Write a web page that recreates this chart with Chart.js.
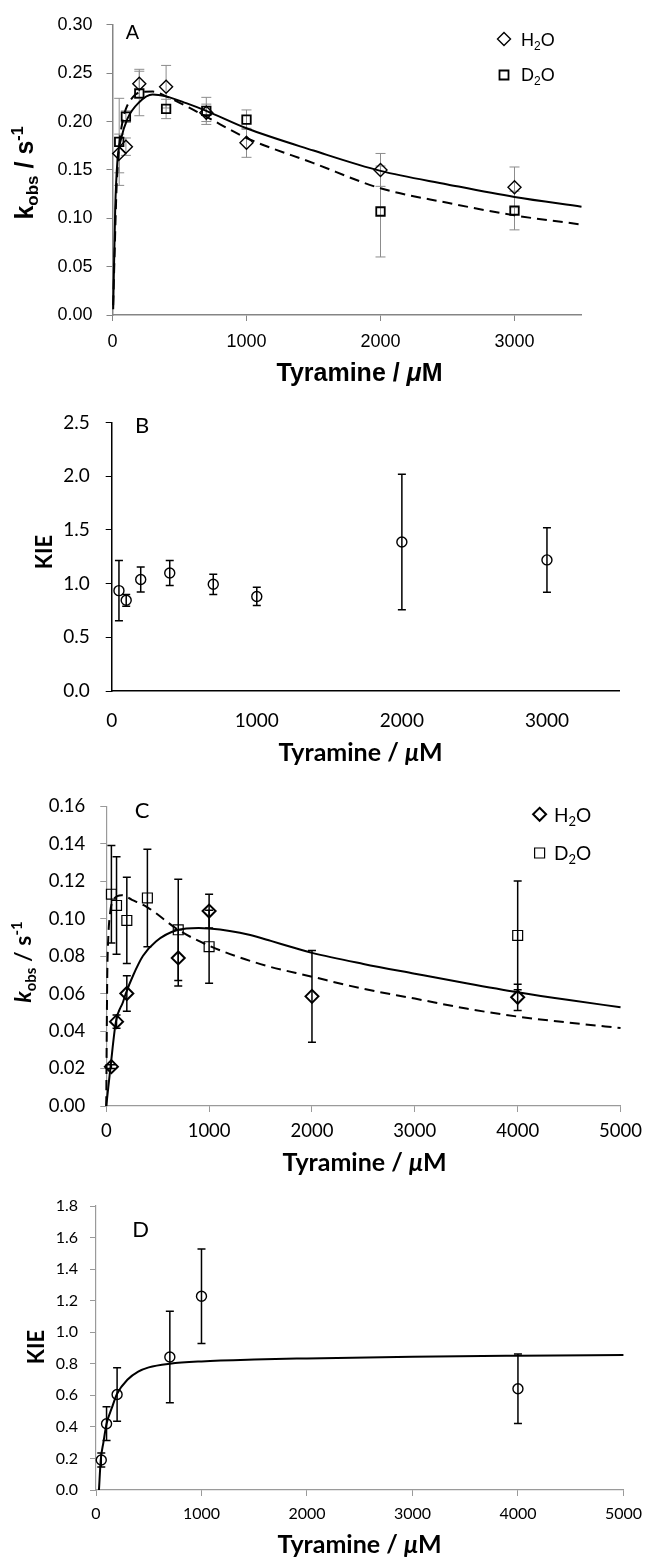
<!DOCTYPE html>
<html><head><meta charset="utf-8">
<script src="https://cdn.jsdelivr.net/npm/chart.js@4.4.1/dist/chart.umd.min.js"></script>
<style>
html,body{margin:0;padding:0;background:#fff;}
body{width:650px;height:1558px;position:relative;overflow:hidden;}
canvas{position:absolute;left:0;}
</style></head><body>
<canvas id="cA" width="650" height="395" style="top:0px;width:650px;height:395px"></canvas>
<canvas id="cB" width="650" height="385" style="top:395px;width:650px;height:385px"></canvas>
<canvas id="cC" width="650" height="400" style="top:780px;width:650px;height:400px"></canvas>
<canvas id="cD" width="650" height="378" style="top:1180px;width:650px;height:378px"></canvas>
<script>
// ---------------- DATA ----------------
// Panel A: kobs vs tyramine
const xA = [50, 100, 200, 400, 700, 1000, 2000, 3000];
const kA_H2O = [0.167, 0.174, 0.239, 0.236, 0.209, 0.178, 0.150, 0.132];
const errA_H2O = [0.020, 0.009, 0.015, 0.022, 0.009, 0.015, 0.017, 0.021];
const kA_D2O = [0.179, 0.205, 0.229, 0.213, 0.211, 0.202, 0.107, 0.108];
const errA_D2O = [0.045, 0.006, 0.023, 0.010, 0.014, 0.010, 0.047, 0.020];
const fitA_H2O_x = [5, 20, 37, 62, 112, 199, 299, 398, 550, 700, 1000, 1500, 2000, 2500, 3000, 3500];
const fitA_H2O_y = [0.006, 0.109, 0.160, 0.181, 0.203, 0.220, 0.228, 0.226, 0.219, 0.211, 0.193, 0.170, 0.149, 0.135, 0.122, 0.112];
const fitA_D2O_x = [5, 15, 30, 50, 75, 100, 150, 200, 300, 400, 550, 700, 1000, 1500, 2000, 2500, 3000, 3500];
const fitA_D2O_y = [0.010, 0.060, 0.130, 0.175, 0.200, 0.213, 0.225, 0.230, 0.231, 0.226, 0.216, 0.205, 0.183, 0.157, 0.131, 0.116, 0.103, 0.0935];

// Panel B: KIE
const xB = [50, 100, 200, 400, 700, 1000, 2000, 3000];
const kieB = [0.934, 0.844, 1.038, 1.098, 0.993, 0.880, 1.387, 1.220];
const errB = [0.280, 0.055, 0.117, 0.117, 0.094, 0.085, 0.630, 0.300];

// Panel C: kobs vs tyramine
const xC_H2O = [50, 100, 200, 700, 1000, 2000, 4000];
const kC_H2O = [0.021, 0.045, 0.060, 0.079, 0.104, 0.0585, 0.058];
const errC_H2O = [0.001, 0.0035, 0.0095, 0.015, 0.009, 0.0245, 0.007];
const xC_D2O = [50, 100, 200, 400, 700, 1000, 4000];
const kC_D2O = [0.113, 0.107, 0.099, 0.111, 0.094, 0.085, 0.091];
const errC_D2O = [0.026, 0.026, 0.023, 0.026, 0.027, 0.0195, 0.029];
const fitC_H2O_x = [0, 20, 42, 94, 163, 190, 260, 356, 483, 691, 899, 1000, 1200, 1400, 1600, 1800, 2000, 2500, 3000, 3500, 4000, 4500, 5000];
const fitC_H2O_y = [0, 0.010, 0.021, 0.045, 0.0555, 0.060, 0.0695, 0.080, 0.0878, 0.0939, 0.0950, 0.0947, 0.0934, 0.0912, 0.0881, 0.0848, 0.0817, 0.0758, 0.0706, 0.0655, 0.0607, 0.0565, 0.0527];
const fitC_D2O_x = [0, 5, 10, 20, 40, 70, 150, 250, 400, 700, 1000, 1500, 2000, 2500, 3000, 3500, 4000, 4500, 5000];
const fitC_D2O_y = [0, 0.040, 0.070, 0.090, 0.104, 0.110, 0.1125, 0.110, 0.106, 0.094, 0.0855, 0.0757, 0.069, 0.0625, 0.0573, 0.052, 0.0477, 0.0445, 0.0416];

// Panel D: KIE
const xD = [50, 100, 200, 700, 1000, 4000];
const kieD = [0.190, 0.420, 0.605, 0.843, 1.228, 0.642];
const errD = [0.045, 0.107, 0.170, 0.290, 0.300, 0.220];
const fitD_x = [28, 45, 70, 100, 150, 200, 300, 400, 500, 700, 1000, 1500, 2000, 3000, 4000, 5000];
const fitD_y = [0, 0.190, 0.300, 0.420, 0.520, 0.610, 0.700, 0.750, 0.777, 0.800, 0.815, 0.827, 0.834, 0.845, 0.851, 0.855];

// tick values
const tickA_x = [0, 1000, 2000, 3000];
const tickA_y = [0, 0.05, 0.10, 0.15, 0.20, 0.25, 0.30];
const tickB_x = [0, 1000, 2000, 3000];
const tickB_y = [0, 0.5, 1.0, 1.5, 2.0, 2.5];
const tickC_x = [0, 1000, 2000, 3000, 4000, 5000];
const tickC_y = [0, 0.02, 0.04, 0.06, 0.08, 0.10, 0.12, 0.14, 0.16];
const tickD_x = [0, 1000, 2000, 3000, 4000, 5000];
const tickD_y = [0, 0.2, 0.4, 0.6, 0.8, 1.0, 1.2, 1.4, 1.6, 1.8];

// axis ranges
const rangeA = {x: [0, 3500], y: [0, 0.30], dec: 2};
const rangeB = {x: [0, 3500], y: [0, 2.5], dec: 1};
const rangeC = {x: [0, 5000], y: [0, 0.16], dec: 2};
const rangeD = {x: [0, 5000], y: [0, 1.8], dec: 1};

// ---------------- HELPERS ----------------
const FA = "'Liberation Sans', Arial, Helvetica, sans-serif";
const FL = "Lato, 'Open Sans', sans-serif";

function pts(xs, ys) { return xs.map((x, i) => ({x: x, y: ys[i]})); }

function pointSet(label, xs, ys, errs, style, r, bw, errStyle) {
  return {label, data: pts(xs, ys), showLine: false, pointStyle: style,
    pointRadius: r, pointHoverRadius: r, pointBorderWidth: bw,
    pointBorderColor: '#000', pointBackgroundColor: 'rgba(0,0,0,0)',
    errors: errs, errStyle: errStyle, clip: false, order: 0};
}
function fitSet(label, xs, ys, dash, lw) {
  return {label, data: pts(xs, ys), showLine: true, pointRadius: 0, pointHoverRadius: 0,
    borderColor: '#000', borderWidth: lw, borderDash: dash,
    cubicInterpolationMode: 'monotone', fill: false, order: 1, clip: false};
}

const errorBarPlugin = {
  id: 'errorBars',
  beforeDatasetsDraw(chart) {
    const ctx = chart.ctx, xs = chart.scales.x, ys = chart.scales.y;
    chart.data.datasets.forEach(ds => {
      if (!ds.errors) return;
      const st = ds.errStyle;
      ctx.save();
      ctx.strokeStyle = st.color; ctx.lineWidth = st.width;
      ds.data.forEach((p, i) => {
        const e = ds.errors[i];
        if (!e) return;
        const px = xs.getPixelForValue(p.x);
        const y1 = ys.getPixelForValue(p.y + e), y2 = ys.getPixelForValue(p.y - e);
        ctx.beginPath();
        ctx.moveTo(px, y1); ctx.lineTo(px, y2);
        ctx.moveTo(px - st.cap, y1); ctx.lineTo(px + st.cap, y1);
        ctx.moveTo(px - st.cap, y2); ctx.lineTo(px + st.cap, y2);
        ctx.stroke();
      });
      ctx.restore();
    });
  }
};

function textPlugin(items) {
  return {
    id: 'richText',
    afterDraw(chart) {
      const ctx = chart.ctx;
      items.forEach(it => {
        ctx.save();
        if (it.marker) {
          ctx.strokeStyle = '#000'; ctx.lineWidth = it.lw;
          ctx.beginPath();
          if (it.marker === 'diamond') {
            ctx.moveTo(it.x, it.y - it.r); ctx.lineTo(it.x + it.r, it.y);
            ctx.lineTo(it.x, it.y + it.r); ctx.lineTo(it.x - it.r, it.y); ctx.closePath();
          } else {
            ctx.rect(it.x - it.r, it.y - it.r, 2 * it.r, 2 * it.r);
          }
          ctx.stroke();
          ctx.restore();
          return;
        }
        ctx.fillStyle = '#000';
        ctx.textBaseline = 'alphabetic';
        ctx.textAlign = 'left';
        const widths = it.parts.map(p => { ctx.font = p.font; return ctx.measureText(p.t).width; });
        const total = widths.reduce((a, b) => a + b, 0);
        ctx.translate(it.x, it.y);
        if (it.rotate) ctx.rotate(-Math.PI / 2);
        let x0 = it.align === 'left' ? 0 : -total / 2;
        it.parts.forEach((p, i) => { ctx.font = p.font; ctx.fillText(p.t, x0, p.dy || 0); x0 += widths[i]; });
        ctx.restore();
      });
    }
  };
}

function axisCfg(lim, vals, dec, opt, geomFit) {
  return {
    type: 'linear', min: lim[0], max: lim[1],
    afterBuildTicks: s => { s.ticks = vals.map(v => ({value: v})); },
    ticks: {color: '#000',
      font: {family: opt.family, size: opt.size}, padding: opt.pad,
      maxRotation: 0, minRotation: 0, autoSkip: false,
      callback: (v) => dec !== undefined ? Number(v).toFixed(dec) : String(v)},
    grid: {display: true, drawOnChartArea: false, drawTicks: opt.drawTicks !== false,
      tickLength: opt.tl, color: opt.color, lineWidth: 1},
    border: {display: true, color: opt.color, width: opt.bw},
    afterFit: geomFit
  };
}

function makeChart(id, g, datasets, range, xv, yv, xo, yo, items) {
  const ctx = document.getElementById(id);
  return new Chart(ctx, {
    type: 'scatter',
    data: {datasets},
    options: {
      responsive: false, maintainAspectRatio: false, animation: false, devicePixelRatio: 1,
      layout: {autoPadding: false, padding: {left: 0, top: g.top, right: g.W - g.right, bottom: 0}},
      plugins: {legend: {display: false}, tooltip: {enabled: false}, title: {display: false}},
      scales: {
        x: axisCfg(range.x, xv, undefined, xo, s => { s.height = g.H - g.bottom; }),
        y: axisCfg(range.y, yv, range.dec, yo, s => { s.width = g.left; })
      }
    },
    plugins: [errorBarPlugin, textPlugin(items)]
  });
}

function draw() {
  // ---------- Panel A ----------
  const gA = {W: 650, H: 395, left: 112.5, right: 581.5, top: 24, bottom: 315};
  const grayA = '#858585';
  const eA = {color: '#8c8c8c', width: 1, cap: 5};
  makeChart('cA', gA, [
    pointSet('H2O', xA, kA_H2O, errA_H2O, 'rectRot', 6.5, 1.4, eA),
    pointSet('D2O', xA, kA_D2O, errA_D2O, 'rect', 6, 1.8, eA),
    fitSet('H2O fit', fitA_H2O_x, fitA_H2O_y, [], 2),
    fitSet('D2O fit', fitA_D2O_x, fitA_D2O_y, [10, 6], 2)
  ], rangeA, tickA_x, tickA_y,
  {family: FA, size: 18, pad: 10.5, tl: 6, color: grayA, bw: 1.5},
  {family: FA, size: 18, pad: 14, tl: 6, color: grayA, bw: 1.5},
  [
    {x: 132.5, y: 38.5, parts: [{t: 'A', font: '20px ' + FA}]},
    {marker: 'diamond', x: 504, y: 39, r: 6.5, lw: 1.4},
    {x: 521, y: 45.5, align: 'left', parts: [{t: 'H', font: '18px ' + FA}, {t: '2', font: '12px ' + FA, dy: 4}, {t: 'O', font: '18px ' + FA}]},
    {marker: 'square', x: 504, y: 75, r: 4.5, lw: 1.8},
    {x: 521, y: 80.5, align: 'left', parts: [{t: 'D', font: '18px ' + FA}, {t: '2', font: '12px ' + FA, dy: 4}, {t: 'O', font: '18px ' + FA}]},
    {x: 33, y: 173, rotate: true, parts: [
      {t: 'k', font: 'bold 25px ' + FA}, {t: 'obs', font: 'bold 17px ' + FA, dy: 5},
      {t: ' / s', font: 'bold 25px ' + FA}, {t: '-1', font: 'bold 16px ' + FA, dy: -10}]},
    {x: 359.5, y: 381, parts: [{t: 'Tyramine / ', font: 'bold 25px ' + FA}, {t: 'μ', font: 'italic bold 25px ' + FA}, {t: 'M', font: 'bold 25px ' + FA}]}
  ]);

  // ---------- Panel B ----------
  const gB = {W: 650, H: 385, left: 111.7, right: 619.5, top: 16.7, bottom: 296};
  const eB = {color: '#000', width: 1.5, cap: 4};
  makeChart('cB', gB, [
    pointSet('KIE', xB, kieB, errB, 'circle', 5, 1.4, eB)
  ], rangeB, tickB_x, tickB_y,
  {family: FL, size: 19, pad: 18, tl: 0, drawTicks: false, color: '#000', bw: 1.5},
  {family: FL, size: 19, pad: 16, tl: 6, color: '#000', bw: 1.5},
  [
    {x: 142, y: 38, parts: [{t: 'B', font: '22px ' + FL}]},
    {x: 52, y: 157, rotate: true, parts: [{t: 'KIE', font: 'bold 22px ' + FL}]},
    {x: 360.5, y: 366, parts: [{t: 'Tyramine / ', font: 'bold 25px ' + FL}, {t: 'μ', font: 'italic bold 25px ' + FL}, {t: 'M', font: 'bold 25px ' + FL}]}
  ]);

  // ---------- Panel C ----------
  const gC = {W: 650, H: 400, left: 106.25, right: 628.3, top: 20.7, bottom: 326};
  const grayC = '#9a9a9a';
  const eC = {color: '#000', width: 1.5, cap: 4};
  makeChart('cC', gC, [
    pointSet('H2O', xC_H2O, kC_H2O, errC_H2O, 'rectRot', 6.5, 2, eC),
    pointSet('D2O', xC_D2O, kC_D2O, errC_D2O, 'rect', 7, 1.2, eC),
    fitSet('H2O fit', fitC_H2O_x, fitC_H2O_y, [], 2),
    fitSet('D2O fit', fitC_D2O_x, fitC_D2O_y, [10, 6], 2)
  ], rangeC, tickC_x, tickC_y,
  {family: FL, size: 18.5, pad: 8, tl: 6, color: grayC, bw: 1.2},
  {family: FL, size: 18.5, pad: 15, tl: 6, color: grayC, bw: 1.2},
  [
    {x: 142, y: 38, parts: [{t: 'C', font: '22px ' + FL}]},
    {marker: 'diamond', x: 539.6, y: 34.3, r: 6.5, lw: 2},
    {x: 554, y: 42, align: 'left', parts: [{t: 'H', font: '19px ' + FL}, {t: '2', font: '13px ' + FL, dy: 4}, {t: 'O', font: '19px ' + FL}]},
    {marker: 'square', x: 539.6, y: 73, r: 5, lw: 1.2},
    {x: 554, y: 80, align: 'left', parts: [{t: 'D', font: '19px ' + FL}, {t: '2', font: '13px ' + FL, dy: 4}, {t: 'O', font: '19px ' + FL}]},
    {x: 31, y: 182, rotate: true, parts: [
      {t: 'k', font: 'italic bold 23px ' + FL}, {t: 'obs', font: 'bold 15px ' + FL, dy: 5},
      {t: ' / s', font: 'bold 23px ' + FL}, {t: '-1', font: 'bold 15px ' + FL, dy: -9}]},
    {x: 364.6, y: 391, parts: [{t: 'Tyramine / ', font: 'bold 25px ' + FL}, {t: 'μ', font: 'italic bold 25px ' + FL}, {t: 'M', font: 'bold 25px ' + FL}]}
  ]);

  // ---------- Panel D ----------
  const gD = {W: 650, H: 378, left: 96, right: 624, top: 26, bottom: 310};
  const grayD = '#9a9a9a';
  const eD = {color: '#000', width: 1.5, cap: 4};
  makeChart('cD', gD, [
    pointSet('KIE', xD, kieD, errD, 'circle', 5, 1.4, eD),
    fitSet('fit', fitD_x, fitD_y, [], 2)
  ], rangeD, tickD_x, tickD_y,
  {family: FL, size: 16, pad: 8, tl: 6, color: grayD, bw: 1.2},
  {family: FL, size: 16, pad: 12, tl: 6, color: grayD, bw: 1.2},
  [
    {x: 140.5, y: 57, parts: [{t: 'D', font: '22px ' + FL}]},
    {x: 44, y: 167, rotate: true, parts: [{t: 'KIE', font: 'bold 22px ' + FL}]},
    {x: 359.6, y: 373, parts: [{t: 'Tyramine / ', font: 'bold 25px ' + FL}, {t: 'μ', font: 'italic bold 25px ' + FL}, {t: 'M', font: 'bold 25px ' + FL}]}
  ]);
}

const fontLoads = ['18px "Liberation Sans"', 'bold 25px "Liberation Sans"', '19px Lato', 'bold 25px Lato', 'italic bold 25px Lato'];
if (document.fonts && document.fonts.load) {
  Promise.all(fontLoads.map(f => document.fonts.load(f).catch(() => null))).then(draw, draw);
} else { draw(); }
</script>
</body></html>
